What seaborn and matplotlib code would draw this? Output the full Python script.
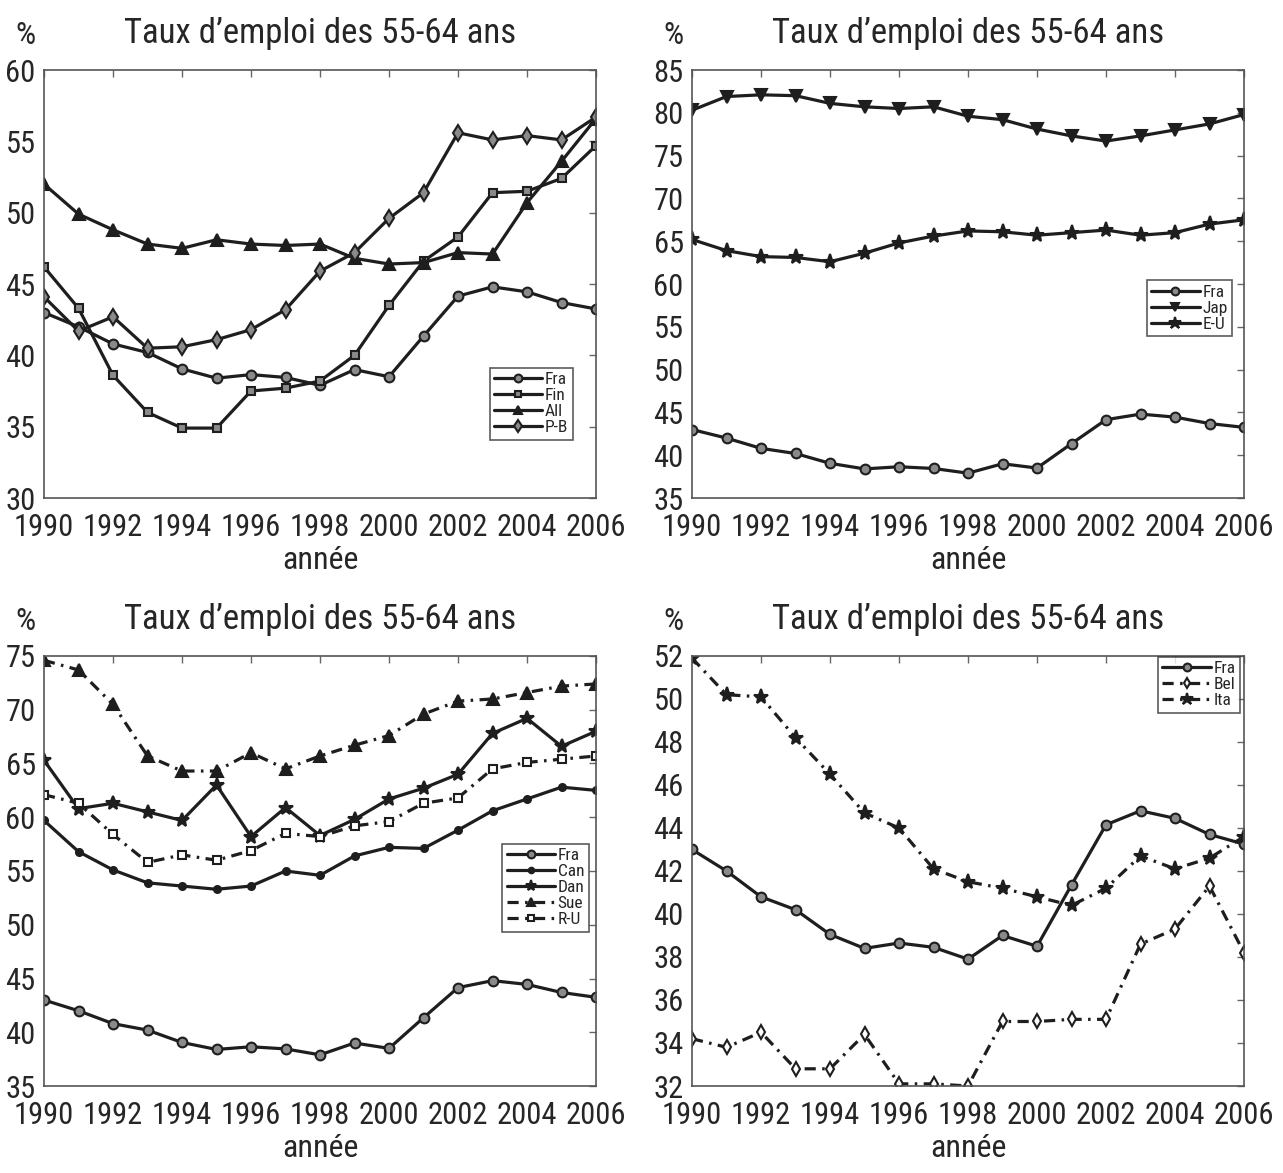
import matplotlib
matplotlib.use("Agg")
import matplotlib.pyplot as plt
from matplotlib import font_manager
import seaborn as sns

sns.set_style("white")

# Prefer a narrow sans face; fall back to condensed DejaVu Sans
names = {f.name for f in font_manager.fontManager.ttflist}
narrow = [n for n in ("Liberation Sans Narrow", "Roboto Condensed", "Open Sans Condensed") if n in names]
if narrow:
    plt.rcParams["font.family"] = [narrow[0], "DejaVu Sans"]
else:
    plt.rcParams["font.family"] = ["DejaVu Sans"]
    plt.rcParams["font.stretch"] = "condensed"

years = list(range(1990, 2007))

fra = [43.0, 42.0, 40.8, 40.2, 39.05, 38.4, 38.65, 38.45, 37.9, 39.0, 38.5, 41.35, 44.15, 44.8, 44.45, 43.7, 43.25]
fin = [46.2, 43.3, 38.6, 36.0, 34.9, 34.9, 37.5, 37.7, 38.2, 40.0, 43.5, 46.6, 48.3, 51.4, 51.5, 52.4, 54.7]
all_ = [52.0, 49.9, 48.8, 47.8, 47.5, 48.1, 47.8, 47.7, 47.8, 46.8, 46.4, 46.5, 47.2, 47.1, 50.7, 53.6, 56.6]
pb = [44.1, 41.7, 42.7, 40.5, 40.6, 41.1, 41.8, 43.2, 45.9, 47.2, 49.6, 51.4, 55.6, 55.1, 55.4, 55.1, 56.7]

jap = [80.3, 81.9, 82.1, 82.0, 81.1, 80.7, 80.5, 80.7, 79.6, 79.2, 78.1, 77.3, 76.7, 77.3, 78.0, 78.7, 79.8]
eu = [65.2, 63.9, 63.2, 63.1, 62.6, 63.6, 64.8, 65.6, 66.2, 66.1, 65.7, 66.0, 66.3, 65.7, 66.0, 67.0, 67.5]

can = [59.7, 56.8, 55.1, 53.9, 53.6, 53.3, 53.6, 55.0, 54.6, 56.4, 57.2, 57.1, 58.8, 60.6, 61.7, 62.8, 62.5]
dan = [65.3, 60.8, 61.3, 60.5, 59.7, 63.0, 58.2, 60.9, 58.3, 59.8, 61.7, 62.7, 64.0, 67.8, 69.2, 66.6, 68.0]
sue = [74.6, 73.7, 70.5, 65.7, 64.3, 64.3, 66.0, 64.5, 65.7, 66.7, 67.6, 69.6, 70.8, 71.0, 71.6, 72.2, 72.4]
ru = [62.1, 61.3, 58.4, 55.8, 56.5, 56.0, 56.9, 58.5, 58.2, 59.2, 59.6, 61.3, 61.8, 64.5, 65.1, 65.4, 65.7]

bel = [34.2, 33.8, 34.5, 32.8, 32.8, 34.4, 32.1, 32.1, 32.0, 35.0, 35.0, 35.1, 35.1, 38.6, 39.3, 41.3, 38.2]
ita = [51.9, 50.2, 50.1, 48.2, 46.5, 44.7, 44.0, 42.1, 41.5, 41.2, 40.8, 40.4, 41.2, 42.7, 42.1, 42.6, 43.6]

title = "Taux d\u2019emploi des 55-64 ans"
xticks = list(range(1990, 2007, 2))

LINE = "#1e1e1e"
GREY = "#8a8a8a"
DASHDOT = (0, (3.5, 2.0, 0.8, 2.0))

fig = plt.figure(figsize=(12.83, 11.73), dpi=100)
W, H = 1283, 1173
PX = 72 / 100  # points per pixel


def make_ax(x0, x1, ytop, ybot):
    return fig.add_axes([x0 / W, 1 - ybot / H, (x1 - x0) / W, (ybot - ytop) / H])


def series(ax, y, label, marker, ms, face, ls="-"):
    sns.lineplot(x=years, y=y, ax=ax, label=label, color=LINE, linewidth=2.3,
                 linestyle=ls, marker=marker, markersize=ms,
                 markerfacecolor=face, markeredgecolor=LINE, markeredgewidth=1.5)


def style(ax, ylim, yticks, leg_anchor):
    ax.set_xlim(1990, 2006)
    ax.set_ylim(*ylim)
    ax.set_xticks(xticks)
    ax.set_yticks(yticks)
    ax.tick_params(direction="in", length=5, width=1.0, color="#666666",
                   labelsize=22, top=True, right=True)
    ax.tick_params(axis="x", pad=11)
    ax.tick_params(axis="y", pad=6)
    for s in ax.spines.values():
        s.set_color("#555555")
        s.set_linewidth(1.2)
    ax.set_title(title, fontsize=25, pad=27 * PX)
    ax.set_xlabel("ann\u00e9e", fontsize=23, labelpad=3)
    ax.set_ylabel("")
    ax.annotate("%", xy=(0, 1), xycoords="axes fraction",
                xytext=(-19, 26), textcoords="offset pixels",
                fontsize=23, ha="center", va="baseline")
    leg = ax.legend(loc="upper right", bbox_to_anchor=leg_anchor, fontsize=12.5,
                    frameon=True, fancybox=False, borderpad=0.25,
                    labelspacing=0.05, handlelength=2.8, handletextpad=0.15,
                    borderaxespad=0.0, markerscale=0.8)
    leg.get_frame().set_edgecolor("#333333")
    leg.get_frame().set_linewidth(1.2)


# Top left: France, Finlande, Allemagne, Pays-Bas
ax1 = make_ax(44, 596, 70, 498)
series(ax1, fra, "Fra", "o", 7, GREY)
series(ax1, fin, "Fin", "s", 6, GREY)
series(ax1, all_, "All", "^", 8, LINE)
series(ax1, pb, "P-B", "d", 8, GREY)
style(ax1, (30, 60), range(30, 61, 5), (0.958, 0.304))

# Top right: France, Japon, Etats-Unis
ax2 = make_ax(692, 1244, 70, 498)
series(ax2, fra, "Fra", "o", 7, GREY)
series(ax2, jap, "Jap", "v", 8, LINE)
series(ax2, eu, "E-U", "*", 11, LINE)
style(ax2, (35, 85), range(35, 86, 5), (0.978, 0.509))

# Bottom left: France, Canada, Danemark, Suede, Royaume-Uni
ax3 = make_ax(44, 596, 656, 1086)
series(ax3, fra, "Fra", "o", 7, GREY)
series(ax3, can, "Can", ".", 10, LINE)
series(ax3, dan, "Dan", "*", 10, LINE)
series(ax3, sue, "Sue", "^", 8, LINE, DASHDOT)
series(ax3, ru, "R-U", "s", 6, "white", DASHDOT)
style(ax3, (35, 75), range(35, 76, 5), (0.987, 0.563))

# Bottom right: France, Belgique, Italie
ax4 = make_ax(692, 1244, 656, 1086)
series(ax4, fra, "Fra", "o", 7, GREY)
series(ax4, bel, "Bel", "d", 7, "white", DASHDOT)
series(ax4, ita, "Ita", "*", 11, LINE, DASHDOT)
style(ax4, (32, 52), range(32, 53, 2), (0.993, 0.998))

fig.savefig("out.png", dpi=100)
